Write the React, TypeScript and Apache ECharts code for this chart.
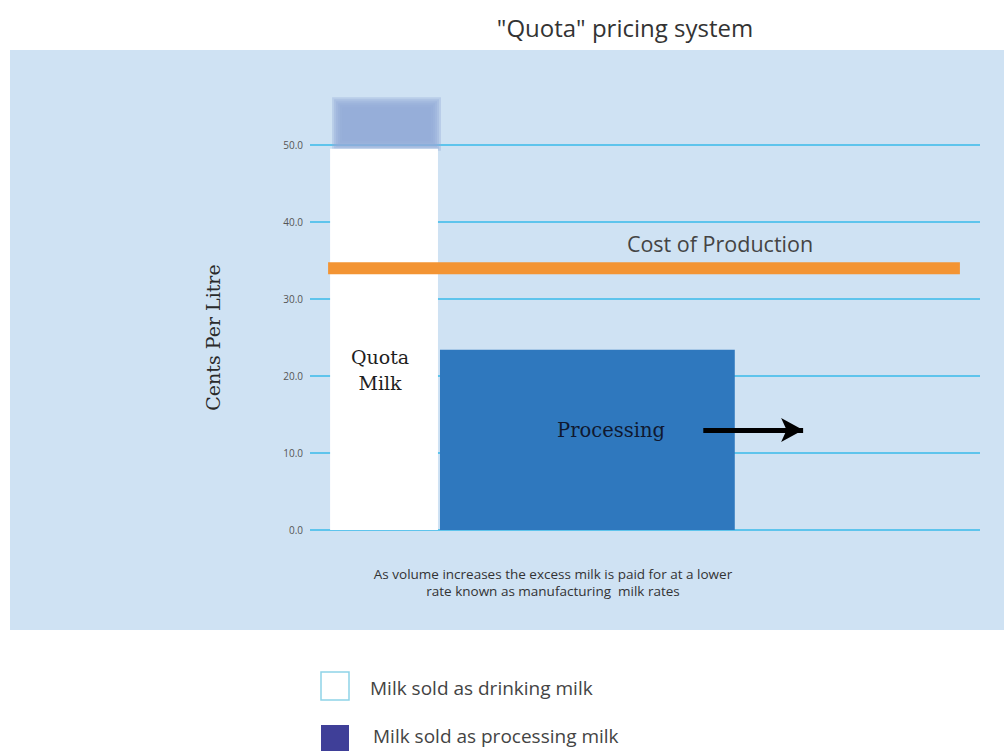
import React, { useEffect, useRef } from "react";
import * as echarts from "echarts";

// Price paid per segment of milk volume (cents per litre)
const segments = ["Quota Milk", "Processing"];
const volumeStart = [3.0, 19.4];
const volumeEnd = [19.1, 63.4];
const pricePerLitre = [49.5, 23.4];
// Upper edge of the faded quota premium above the drinking-milk price
const quotaPremiumTop = [56.2];
const costOfProduction = 34.0;
const costLineVolume = [2.7, 97.0];
// Direction arrow showing volume growth
const arrowVolume = [58.7, 73.6];
const arrowLevel = 13.0;
const yTicks = [0, 10, 20, 30, 40, 50];

const legendItems = ["Milk sold as drinking milk", "Milk sold as processing milk"];
const captionLines = [
  "As volume increases the excess milk is paid for at a lower",
  "rate known as manufacturing  milk rates",
];

const SANS = "'Open Sans', 'Noto Sans', sans-serif";
const SERIF = "'DejaVu Serif', 'Liberation Serif', serif";

export default function App() {
  const ref = useRef<HTMLDivElement>(null);

  useEffect(() => {
    if (!ref.current) return;
    const chart = echarts.init(ref.current, undefined, { renderer: "svg" });

    const segmentData = segments.map((name, i) => ({
      name,
      value: [volumeStart[i], volumeEnd[i], pricePerLitre[i], i === 0 ? quotaPremiumTop[0] : pricePerLitre[i]],
    }));

    chart.setOption({
      animation: false,
      backgroundColor: "#ffffff",
      grid: { left: 310, right: 24, top: 145, bottom: 221 },
      xAxis: {
        type: "value",
        min: 0,
        max: 100,
        show: false,
      },
      yAxis: {
        type: "value",
        min: yTicks[0],
        max: yTicks[yTicks.length - 1],
        interval: 10,
        name: "Cents Per Litre",
        nameLocation: "middle",
        nameRotate: 90,
        nameGap: 88,
        nameTextStyle: { fontFamily: SERIF, fontSize: 19, color: "#2a2a2a" },
        axisLine: { show: false },
        axisTick: { show: false },
        axisLabel: {
          margin: 7,
          fontFamily: "'Liberation Sans Narrow', " + SANS,
          fontSize: 10,
          color: "#555555",
          formatter: (v: number) => v.toFixed(1),
        },
        splitLine: { lineStyle: { color: "#5ec4ec", width: 2 } },
      },
      graphic: [
        {
          type: "rect",
          z: -10,
          silent: true,
          shape: { x: 10, y: 50, width: 994, height: 580 },
          style: { fill: "#cfe2f3" },
        },
        {
          type: "text",
          x: 625,
          y: 27,
          style: {
            text: '"Quota" pricing system',
            fontFamily: SANS,
            fontSize: 24,
            fill: "#333333",
            align: "center",
            verticalAlign: "middle",
          },
        },
        {
          type: "text",
          x: 380,
          y: 370,
          z: 20,
          style: {
            text: "Quota\nMilk",
            fontFamily: SERIF,
            fontSize: 19,
            lineHeight: 26,
            fill: "#1e1e1e",
            align: "center",
            verticalAlign: "middle",
          },
        },
        {
          type: "text",
          x: 611,
          y: 430,
          z: 20,
          style: {
            text: "Processing",
            fontFamily: SERIF,
            fontSize: 19.5,
            fill: "#0f1830",
            align: "center",
            verticalAlign: "middle",
          },
        },
        {
          type: "text",
          x: 720,
          y: 243,
          z: 20,
          style: {
            text: "Cost of Production",
            fontFamily: SANS,
            fontSize: 21.5,
            fill: "#444444",
            align: "center",
            verticalAlign: "middle",
          },
        },
        {
          type: "text",
          x: 553,
          y: 582,
          style: {
            text: captionLines.join("\n"),
            fontFamily: SANS,
            fontSize: 13.5,
            lineHeight: 17,
            fill: "#333333",
            align: "center",
            verticalAlign: "middle",
          },
        },
        {
          type: "rect",
          shape: { x: 321, y: 672, width: 28, height: 28 },
          style: { fill: "#ffffff", stroke: "#8fd3e8", lineWidth: 1.5 },
        },
        {
          type: "text",
          x: 370,
          y: 688,
          style: {
            text: legendItems[0],
            fontFamily: SANS,
            fontSize: 19,
            fill: "#444444",
            verticalAlign: "middle",
          },
        },
        {
          type: "rect",
          shape: { x: 321, y: 725, width: 28, height: 30 },
          style: { fill: "#3f3f98" },
        },
        {
          type: "text",
          x: 373,
          y: 736,
          style: {
            text: legendItems[1],
            fontFamily: SANS,
            fontSize: 19,
            fill: "#444444",
            verticalAlign: "middle",
          },
        },
      ],
      series: [
        {
          type: "custom",
          name: "segments",
          clip: false,
          z: 3,
          data: segmentData,
          encode: { x: [0, 1], y: [2, 3] },
          renderItem: (params: any, api: any) => {
            const x0 = api.value(0);
            const x1 = api.value(1);
            const price = api.value(2);
            const top = api.value(3);
            const p0 = api.coord([x0, 0]);
            const p1 = api.coord([x1, price]);
            const children: any[] = [];
            if (top > price) {
              // soft-edged premium block: nested translucent layers
              const pt = api.coord([x1, top]);
              const left = p0[0] + 2;
              const right = p1[0] + 3;
              const upper = pt[1];
              const lower = p1[1] + 2;
              for (let k = 0; k < 6; k++) {
                const inset = k * 2;
                children.push({
                  type: "rect",
                  shape: {
                    x: left + inset,
                    y: upper + inset,
                    width: right - left - inset * 2,
                    height: lower - upper - inset * 2,
                  },
                  style: { fill: "#93acd8", opacity: 0.38 },
                });
              }
            }
            children.push({
              type: "rect",
              shape: { x: p0[0], y: p1[1], width: p1[0] - p0[0], height: p0[1] - p1[1] },
              style: { fill: params.dataIndex === 0 ? "#ffffff" : "#2f78be" },
            });
            return { type: "group", children };
          },
        },
        {
          type: "line",
          name: "Cost of Production",
          z: 4,
          symbol: "none",
          data: costLineVolume.map((v) => [v, costOfProduction]),
          lineStyle: { color: "#f39433", width: 12, cap: "butt" },
        },
        {
          type: "line",
          name: "volume arrow",
          z: 5,
          symbol: "none",
          data: [],
          markLine: {
            silent: true,
            symbol: ["none", "arrow"],
            symbolSize: [18, 22],
            label: { show: false },
            lineStyle: { color: "#000000", width: 5, type: "solid" },
            data: [[{ coord: [arrowVolume[0], arrowLevel] }, { coord: [arrowVolume[1], arrowLevel] }]],
          },
        },
      ],
    });

    return () => chart.dispose();
  }, []);

  return (
    <div
      ref={ref}
      style={{ position: "absolute", left: 0, top: 0, width: 1004, height: 751 }}
    />
  );
}
